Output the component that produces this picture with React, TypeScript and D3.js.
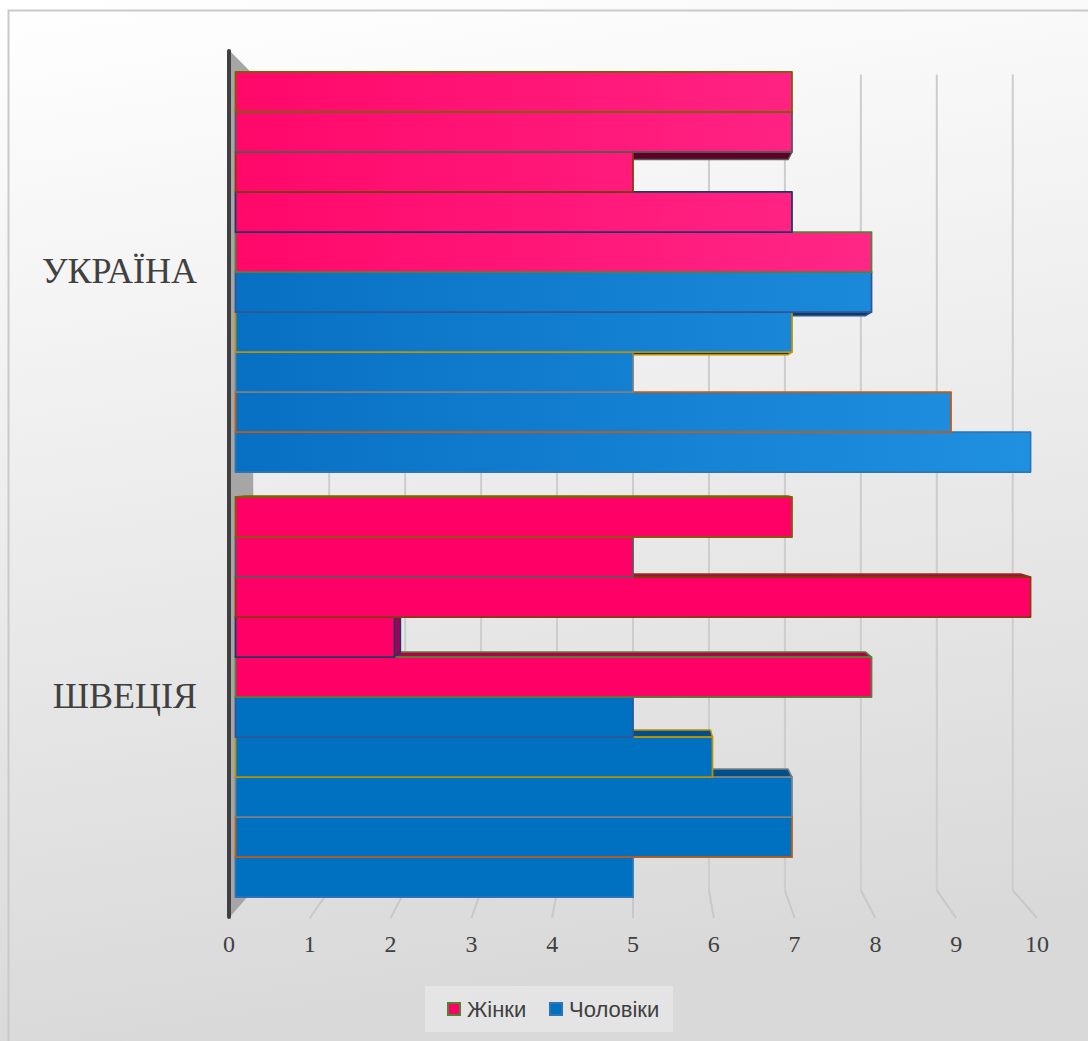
import React from 'react';
import * as d3 from 'd3';

// Categories and the ten bars in each cluster, listed top to bottom
const categories = ['УКРАЇНА', 'ШВЕЦІЯ'];
const rowGroups = ['Жінки', 'Жінки', 'Жінки', 'Жінки', 'Жінки', 'Чоловіки', 'Чоловіки', 'Чоловіки', 'Чоловіки', 'Чоловіки'];
const ukraineValues = [7, 7, 5, 7, 8, 8, 7, 5, 9, 10];
const swedenValues = [7, 5, 10, 2, 8, 5, 6, 7, 7, 5];
const rowOutlines = ['#7F6000', '#595959', '#843C0C', '#1F3864', '#548235', '#2F5597', '#BF9000', '#7F7F7F', '#C55A11', '#2E75B6'];
const tickValues = [0, 1, 2, 3, 4, 5, 6, 7, 8, 9, 10];
const legendItems = ['Жінки', 'Чоловіки'];

const W = 1088;
const H = 1041;
// vanishing centre of the 3D view
const CX = 633;
const CY = 457;
// world extent of the plot box (front plane)
const WALL_TOP = 50;
const FLOOR = 918;
const Z_FRONT = 0.267;
const Z_BACK = 0.677;

const xFront = d3.scaleLinear().domain([0, 10]).range([229, 1037]);
const depth = d3.scaleLinear().domain([0, 1]).range([1, 0.94]);
const yBand = d3.scaleBand<string>().domain(categories).range([53, 917]).paddingInner(0.0588).paddingOuter(0.0294);
const rowBand = d3.scaleBand<number>().domain(d3.range(10)).range([0, yBand.bandwidth()]);

type Pt = [number, number];
const proj = (v: number, wy: number, z: number): Pt => {
  const r = depth(z);
  return [CX + (xFront(v) - CX) * r, CY + (wy - CY) * r];
};
const poly = (pts: Pt[]) => (d3.line()(pts) || '') + 'Z';

const palette: Record<string, { front: string[]; top: string; bottom: string; end: string }> = {
  'Жінки': { front: ['url(#pinkGrad)', '#FF0066'], top: '#B3004A', bottom: '#5C0026', end: '#A3005A' },
  'Чоловіки': { front: ['url(#blueGrad)', '#0070C0'], top: '#00508C', bottom: '#0E3A64', end: '#005A9A' },
};

interface Bar {
  cat: number;
  row: number;
  value: number;
  top: number;
  bottom: number;
  group: string;
  outline: string;
}

const bars: Bar[] = [];
[ukraineValues, swedenValues].forEach((vals, ci) => {
  vals.forEach((value, row) => {
    const top = (yBand(categories[ci]) as number) + (rowBand(row) as number);
    bars.push({ cat: ci, row, value, top, bottom: top + rowBand.bandwidth(), group: rowGroups[row], outline: rowOutlines[row] });
  });
});

const sideFaces = () => {
  const sorted = [...bars].sort(
    (a, b) => Math.abs((b.top + b.bottom) / 2 - CY) - Math.abs((a.top + a.bottom) / 2 - CY)
  );
  const out: JSX.Element[] = [];
  sorted.forEach((b, k) => {
    const p = palette[b.group];
    if (b.top > CY) {
      out.push(
        <path key={`t${k}`} d={poly([proj(0, b.top, Z_FRONT), proj(b.value, b.top, Z_FRONT), proj(b.value, b.top, Z_BACK), proj(0, b.top, Z_BACK)])}
          fill={p.top} stroke={b.outline} strokeWidth={1.5} strokeLinejoin="round" />
      );
    }
    if (b.bottom < CY) {
      out.push(
        <path key={`b${k}`} d={poly([proj(0, b.bottom, Z_FRONT), proj(b.value, b.bottom, Z_FRONT), proj(b.value, b.bottom, Z_BACK), proj(0, b.bottom, Z_BACK)])}
          fill={p.bottom} stroke={b.outline} strokeWidth={1.5} strokeLinejoin="round" />
      );
    }
    if (xFront(b.value) < CX) {
      out.push(
        <path key={`e${k}`} d={poly([proj(b.value, b.top, Z_FRONT), proj(b.value, b.top, Z_BACK), proj(b.value, b.bottom, Z_BACK), proj(b.value, b.bottom, Z_FRONT)])}
          fill={p.end} stroke={b.outline} strokeWidth={1.5} strokeLinejoin="round" />
      );
    }
  });
  return out;
};

const frontFaces = () => {
  const sorted = [...bars].sort((a, b) => b.row - a.row);
  return sorted.map((b, k) => {
    const p = palette[b.group];
    return (
      <path key={`f${k}`} d={poly([proj(0, b.top, Z_FRONT), proj(b.value, b.top, Z_FRONT), proj(b.value, b.bottom, Z_FRONT), proj(0, b.bottom, Z_FRONT)])}
        fill={p.front[b.cat]} stroke={b.outline} strokeWidth={1.75} strokeLinejoin="round" />
    );
  });
};

export default function App() {
  const gridVals = tickValues.filter((v) => v > 0);
  return (
    <svg width={W} height={H} style={{ position: 'absolute', left: 0, top: 0 }} xmlns="http://www.w3.org/2000/svg">
      <defs>
        <linearGradient id="bgGrad" x1="0" y1="0" x2="0.15" y2="1">
          <stop offset="0" stopColor="#ffffff" />
          <stop offset="1" stopColor="#d9d9d9" />
        </linearGradient>
        <linearGradient id="pinkGrad" gradientUnits="userSpaceOnUse" x1={236} y1={0} x2={1031} y2={0}>
          <stop offset="0" stopColor="#FF086A" />
          <stop offset="1" stopColor="#FF2E8E" />
        </linearGradient>
        <linearGradient id="blueGrad" gradientUnits="userSpaceOnUse" x1={236} y1={0} x2={1031} y2={0}>
          <stop offset="0" stopColor="#0870C2" />
          <stop offset="1" stopColor="#2090E0" />
        </linearGradient>
      </defs>

      <rect x={0} y={0} width={W} height={H} fill="url(#bgGrad)" />
      <rect x={8.5} y={10.5} width={W + 20} height={H + 20} fill="none" stroke="#c9c9c9" strokeWidth={2} />

      {/* back wall gridlines */}
      {gridVals.map((v) => {
        const a = proj(v, WALL_TOP, 1);
        const b = proj(v, FLOOR, 1);
        return <line key={`g${v}`} x1={a[0]} y1={a[1]} x2={b[0]} y2={b[1]} stroke="#cdcdcd" strokeWidth={2} />;
      })}
      {/* floor gridlines */}
      {gridVals.map((v) => {
        const a = proj(v, FLOOR, 1);
        const b = proj(v, FLOOR, 0);
        return <line key={`fl${v}`} x1={a[0]} y1={a[1]} x2={b[0]} y2={b[1]} stroke="#c8c8c8" strokeWidth={2} />;
      })}

      {/* side wall */}
      <path d={poly([proj(0, WALL_TOP, 0), proj(0, WALL_TOP, 1), proj(0, FLOOR, 1), proj(0, FLOOR, 0)])} fill="#a6a6a6" />
      <line x1={xFront(0)} y1={WALL_TOP + 1} x2={xFront(0)} y2={FLOOR - 1} stroke="#404040" strokeWidth={4} strokeLinecap="round" />

      {sideFaces()}
      {frontFaces()}

      {/* category labels */}
      {categories.map((c) => {
        const mid = (yBand(c) as number) + yBand.bandwidth() / 2;
        const y = proj(0, mid, Z_FRONT)[1];
        return (
          <text key={c} x={197} y={y + 11} textAnchor="end" fontFamily="'Liberation Serif', 'Times New Roman', serif" fontSize={36} fill="#404040">
            {c}
          </text>
        );
      })}

      {/* value axis labels */}
      {tickValues.map((v) => (
        <text key={`t${v}`} x={xFront(v)} y={952} textAnchor="middle" fontFamily="'Liberation Serif', 'Times New Roman', serif" fontSize={24} fill="#404040">
          {v}
        </text>
      ))}

      {/* legend */}
      <g>
        <rect x={425} y={986} width={248} height={46} fill="#ffffff" fillOpacity={0.3} />
        {legendItems.map((name, i) => {
          const x0 = i === 0 ? 447 : 549;
          const p = palette[name];
          return (
            <g key={name}>
              <rect x={x0 + 1} y={1003} width={12} height={12} fill={p.front[1]} stroke={i === 0 ? '#548235' : '#2E75B6'} strokeWidth={2} />
              <text x={x0 + 20} y={1017} fontFamily="'Liberation Sans', Arial, sans-serif" fontSize={22} fill="#404040">
                {name}
              </text>
            </g>
          );
        })}
      </g>
    </svg>
  );
}
